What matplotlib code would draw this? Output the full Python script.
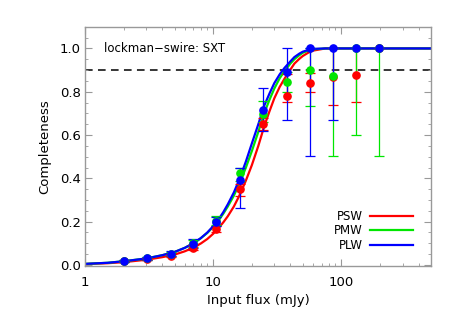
import matplotlib
matplotlib.use("Agg")
import matplotlib.pyplot as plt

# measured points (input flux in mJy)
flux = [2.02, 3.05, 4.67, 6.96, 10.6, 16.1, 24.4, 37.5, 56.7, 86.6, 130, 198]

psw = [0.016, 0.027, 0.042, 0.080, 0.165, 0.349, 0.650, 0.780, 0.841, 0.870, 0.877, 1.0]
psw_lo = [0.012, 0.022, 0.035, 0.070, 0.150, 0.318, 0.623, 0.752, 0.800, 0.741, 0.754, 1.0]
psw_hi = [0.020, 0.032, 0.050, 0.090, 0.180, 0.372, 0.680, 0.883, 0.888, 1.0, 1.0, 1.0]

pmw = [0.018, 0.030, 0.050, 0.100, 0.205, 0.426, 0.695, 0.845, 0.900, 0.875, 1.0, 1.0]
pmw_lo = [0.013, 0.024, 0.042, 0.085, 0.185, 0.390, 0.660, 0.800, 0.733, 0.503, 0.600, 0.503]
pmw_hi = [0.023, 0.036, 0.058, 0.115, 0.225, 0.450, 0.757, 0.890, 1.0, 1.0, 1.0, 1.0]

plw = [0.018, 0.030, 0.050, 0.098, 0.198, 0.392, 0.718, 0.890, 1.0, 1.0, 1.0, 1.0]
plw_lo = [0.012, 0.022, 0.040, 0.080, 0.178, 0.264, 0.621, 0.669, 0.503, 0.669, 1.0, 1.0]
plw_hi = [0.024, 0.038, 0.065, 0.121, 0.222, 0.446, 0.818, 1.0, 1.0, 1.0, 1.0, 1.0]

# fitted completeness curves
curve_x = [1, 1.5, 2, 3, 4, 5, 6, 7, 8, 9, 10, 11, 12, 13, 14.5, 16, 18, 20, 22.5, 25,
           27.5, 30, 33, 36, 40, 43, 47, 50, 55, 60, 75, 100, 500]
psw_fit = [0.004, 0.008, 0.013, 0.024, 0.036, 0.048, 0.063, 0.080, 0.099, 0.120, 0.144,
           0.170, 0.197, 0.225, 0.270, 0.320, 0.390, 0.460, 0.550, 0.640, 0.710, 0.770,
           0.822, 0.860, 0.902, 0.930, 0.952, 0.965, 0.980, 0.990, 1.0, 1.0, 1.0]
pmw_fit = [0.005, 0.010, 0.017, 0.030, 0.045, 0.060, 0.079, 0.100, 0.123, 0.148, 0.176,
           0.205, 0.237, 0.270, 0.320, 0.375, 0.450, 0.525, 0.615, 0.700, 0.763, 0.815,
           0.862, 0.895, 0.930, 0.950, 0.969, 0.980, 0.990, 0.996, 1.0, 1.0, 1.0]
plw_fit = [0.005, 0.010, 0.017, 0.030, 0.045, 0.060, 0.079, 0.100, 0.124, 0.150, 0.179,
           0.210, 0.244, 0.280, 0.335, 0.395, 0.478, 0.560, 0.650, 0.735, 0.792, 0.840,
           0.880, 0.910, 0.940, 0.960, 0.976, 0.985, 0.993, 0.998, 1.0, 1.0, 1.0]

bands = [
    ("PSW", "#ff0000", psw, psw_lo, psw_hi, psw_fit),
    ("PMW", "#00e600", pmw, pmw_lo, pmw_hi, pmw_fit),
    ("PLW", "#0000ff", plw, plw_lo, plw_hi, plw_fit),
]

fig = plt.figure(figsize=(4.57, 3.19), dpi=100)
ax = fig.add_axes([0.186, 0.166, 0.757, 0.750])

ax.axhline(0.9, color="black", lw=1.1, ls=(0, (5, 3.5)), zorder=1)

for name, col, y, lo, hi, fit in bands:
    err = [[yy - l for yy, l in zip(y, lo)], [h - yy for yy, h in zip(y, hi)]]
    ax.errorbar(flux, y, yerr=err, fmt="o", color=col, ms=5.2, elinewidth=0.9,
                capsize=3.6, capthick=0.9, zorder=3)
    ax.plot(curve_x, fit, color=col, lw=1.6, label=name, zorder=2)

ax.set_xscale("log")
ax.set_xlim(1, 500)
ax.set_ylim(-0.005, 1.1)
ax.set_yticks([0.0, 0.2, 0.4, 0.6, 0.8, 1.0])
ax.set_yticks([i * 0.05 for i in range(22)], minor=True)
ax.set_xticks([1, 10, 100])
ax.set_xticklabels(["1", "10", "100"])

for sp in ax.spines.values():
    sp.set_color("#999999")
    sp.set_linewidth(1.0)
ax.tick_params(which="both", direction="in", top=True, right=True, color="#999999",
               labelsize=9.5)
ax.tick_params(which="major", length=5)
ax.tick_params(which="minor", length=2.5)
ax.tick_params(axis="x", pad=7)
ax.tick_params(axis="y", pad=3)

ax.set_xlabel("Input flux (mJy)", fontsize=9.5, labelpad=4)
ax.set_ylabel("Completeness", fontsize=9.5, labelpad=6)

ax.text(0.055, 0.91, "lockman\u2212swire: SXT", transform=ax.transAxes, fontsize=8.5,
        ha="left", va="center")

ax.legend(loc="lower right", bbox_to_anchor=(0.947, 0.06), frameon=False,
          markerfirst=False, fontsize=8.5, handlelength=3.6, labelspacing=0.12,
          borderpad=0, borderaxespad=0, handletextpad=0.6)

fig.savefig("out.png", dpi=100)
